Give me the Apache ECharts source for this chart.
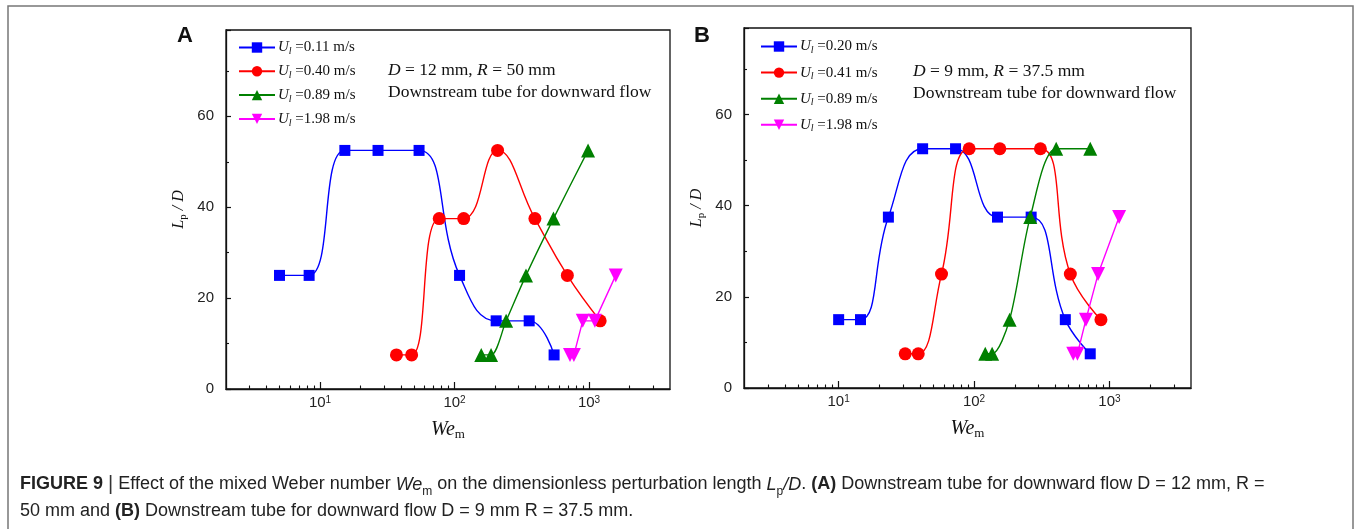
<!DOCTYPE html>
<html>
<head>
<meta charset="utf-8">
<script src="https://cdn.jsdelivr.net/npm/echarts@6/dist/echarts.min.js"></script>
<style>
html,body{margin:0;padding:0;background:#fff;}
#c{width:1356px;height:529px;}
</style>
</head>
<body>
<div id="c"></div>
<script>
// ---------- data ----------
const xMajorTicks = [10, 100, 1000];
const xMinorTicks = [3,4,5,6,7,8,9,20,30,40,50,60,70,80,90,200,300,400,500,600,700,800,900,2000,3000];

// Panel A (D = 12 mm, R = 50 mm)
const aVel = ['0.11', '0.40', '0.89', '1.98'];
const aBlueX = [5, 8.3, 15.3, 27, 54.5, 109, 204, 359, 550];
const aBlueY = [25, 25, 52.5, 52.5, 52.5, 25, 15, 15, 7.5];
const aRedX = [37, 48, 77, 117, 209, 396, 690, 1210];
const aRedY = [7.5, 7.5, 37.5, 37.5, 52.5, 37.5, 25, 15];
const aGreenX = [158, 187, 242, 340, 544, 984];
const aGreenY = [7.5, 7.5, 15, 25, 37.5, 52.5];
const aMagX = [722, 772, 898, 1105, 1580];
const aMagY = [7.5, 7.5, 15, 15, 25];

// Panel B (D = 9 mm, R = 37.5 mm)
const bVel = ['0.20', '0.41', '0.89', '1.98'];
const bBlueX = [10, 14.5, 23.3, 41.7, 73, 149, 264, 472, 721];
const bBlueY = [15, 15, 37.5, 52.5, 52.5, 37.5, 37.5, 15, 7.5];
const bRedX = [31, 38.7, 57.5, 92, 155, 309, 514, 865];
const bRedY = [7.5, 7.5, 25, 52.5, 52.5, 52.5, 25, 15];
const bGreenX = [121, 136, 183, 260, 404, 721];
const bGreenY = [7.5, 7.5, 15, 37.5, 52.5, 52.5];
const bMagX = [540, 580, 670, 824, 1178];
const bMagY = [7.5, 7.5, 15, 25, 37.5];

// ---------- helpers ----------
const zip = (xs, ys) => xs.map((x, i) => [x, ys[i]]);
const colors = ['#0000ff', '#ff0000', '#008000', '#ff00ff'];
const downTri = 'path://M0,0 L10,0 L5,9 Z';
const symbols = ['rect', 'circle', 'triangle', downTri];
const symSizes = [11, 13, 14, 14];
const smooths = [0.45, 0.45, 0.3, false];
const serif = '"Liberation Serif", "Times New Roman", serif';
const sans = '"Liberation Sans", Arial, sans-serif';

const labelMap = {};
function makeSeries(prefix, vel, gridIdx, xs, ys) {
  return xs.map((xArr, k) => {
    const name = prefix + k;
    labelMap[name] = vel[k];
    return {
      name: name,
      type: 'line',
      xAxisIndex: gridIdx * 2,
      yAxisIndex: gridIdx,
      data: zip(xArr, ys[k]),
      smooth: smooths[k],
      symbol: symbols[k],
      symbolSize: symSizes[k],
      showSymbol: true,
      lineStyle: { color: colors[k], width: 1.4 },
      itemStyle: { color: colors[k] },
      emphasis: { disabled: true },
      z: 2 + k
    };
  });
}
const seriesA = makeSeries('a', aVel, 0, [aBlueX, aRedX, aGreenX, aMagX], [aBlueY, aRedY, aGreenY, aMagY]);
const seriesB = makeSeries('b', bVel, 1, [bBlueX, bRedX, bGreenX, bMagX], [bBlueY, bRedY, bGreenY, bMagY]);

const grids = [
  { left: 226, right: 686, top: 30, bottom: 140 },
  { left: 744, right: 165, top: 28, bottom: 141 }
];

function xAxes(gridIndex) {
  return [{
    type: 'log', logBase: 10, min: 2, max: 4000, gridIndex: gridIndex, position: 'bottom',
    name: '{w|We}{m|m}', nameLocation: 'middle', nameGap: 30,
    nameTextStyle: { rich: {
      w: { fontFamily: serif, fontStyle: 'italic', fontSize: 20, color: '#111', lineHeight: 22 },
      m: { fontFamily: serif, fontSize: 13, color: '#111', verticalAlign: 'bottom', lineHeight: 22, padding: [6, 0, 0, 0] }
    } },
    axisLine: { show: true, lineStyle: { color: '#111', width: 1.3 } },
    axisTick: { show: true, inside: true, length: 7, customValues: xMajorTicks, lineStyle: { color: '#111', width: 1.2 } },
    minorTick: { show: false },
    splitLine: { show: false },
    axisLabel: {
      customValues: xMajorTicks, margin: 6, fontFamily: sans, fontSize: 15, color: '#222',
      formatter: v => '10{sup|' + Math.round(Math.log10(v)) + '}',
      rich: { sup: { fontFamily: sans, fontSize: 10, color: '#222', verticalAlign: 'top', lineHeight: 12, padding: [0, 0, 6, 0] } }
    }
  }, {
    type: 'log', logBase: 10, min: 2, max: 4000, gridIndex: gridIndex, position: 'bottom',
    axisLine: { show: false },
    axisTick: { show: true, inside: true, length: 3.5, customValues: xMinorTicks, lineStyle: { color: '#111', width: 1.1 } },
    axisLabel: { show: false },
    splitLine: { show: false }
  }];
}

function yAxis(gridIndex) {
  return {
    type: 'value', min: 0, max: 79, interval: 20, gridIndex: gridIndex,
    name: '{i|L}{s|p}{n| / }{i|D}', nameLocation: 'middle', nameGap: 37,
    nameTextStyle: { rich: {
      i: { fontFamily: serif, fontStyle: 'italic', fontSize: 16, color: '#111', lineHeight: 20 },
      s: { fontFamily: serif, fontSize: 11, color: '#111', verticalAlign: 'bottom', lineHeight: 20, padding: [5, 0, 0, 0] },
      n: { fontFamily: serif, fontStyle: 'italic', fontSize: 16, color: '#111', lineHeight: 20 }
    } },
    axisLine: { show: true, lineStyle: { color: '#111', width: 1.3 } },
    axisTick: { show: true, inside: true, length: 5, lineStyle: { color: '#111', width: 1.2 } },
    minorTick: { show: true, splitNumber: 2, length: 3, lineStyle: { color: '#111', width: 1.1 } },
    splitLine: { show: false },
    axisLabel: { margin: 12, fontFamily: sans, fontSize: 15, color: '#222', showMaxLabel: false }
  };
}

function legend(prefix, left, top, gap) {
  return {
    data: [0, 1, 2, 3].map(k => prefix + k),
    orient: 'vertical', left: left, top: top, itemGap: gap,
    itemWidth: 36, itemHeight: 13,
    selectedMode: false,
    formatter: name => '{u|U}{s|l}{t| =' + labelMap[name] + ' m/s}',
    textStyle: {
      padding: [0, 0, 0, -2],
      rich: {
        u: { fontFamily: serif, fontStyle: 'italic', fontSize: 15, color: '#111', lineHeight: 18 },
        s: { fontFamily: serif, fontStyle: 'italic', fontSize: 10, color: '#111', verticalAlign: 'bottom', lineHeight: 18, padding: [4, 0, 0, 0] },
        t: { fontFamily: serif, fontSize: 15, color: '#111', lineHeight: 18 }
      }
    }
  };
}

const noteSize = 17.5;
const noteStyle = { fontFamily: serif, fontSize: noteSize, fontWeight: 'normal', color: '#111', lineHeight: 22,
  rich: {
    it: { fontFamily: serif, fontStyle: 'italic', fontWeight: 'normal', fontSize: noteSize, color: '#111', lineHeight: 22 },
    r: { fontFamily: serif, fontWeight: 'normal', fontSize: noteSize, color: '#111', lineHeight: 22 }
  } };

const capSize = 18;
const capRich = {
  b: { fontFamily: sans, fontWeight: 'bold', fontSize: capSize, color: '#222', lineHeight: 27 },
  r: { fontFamily: sans, fontWeight: 'normal', fontSize: capSize, color: '#222', lineHeight: 27 },
  i: { fontFamily: sans, fontWeight: 'normal', fontStyle: 'italic', fontSize: capSize, color: '#222', lineHeight: 27 },
  sub: { fontFamily: sans, fontWeight: 'normal', fontSize: 12, color: '#222', lineHeight: 27, verticalAlign: 'bottom', padding: [5, 0, 0, 0] },
  bar: { fontFamily: sans, fontWeight: 'normal', fontSize: 20, color: '#333', lineHeight: 27 }
};
const captionText =
  '{b|FIGURE 9 }{bar||}{r| Effect of the mixed Weber number }{i|We}{sub|m}{r| on the dimensionless perturbation length }{i|L}{sub|p}{i|/D}{r|. }{b|(A)}{r| Downstream tube for downward flow D = 12 mm, R =}\n' +
  '{r|50 mm and }{b|(B)}{r| Downstream tube for downward flow D = 9 mm R = 37.5 mm.}';

const option = {
  animation: false,
  backgroundColor: '#fff',
  grid: grids.map(g => Object.assign({ show: true, borderColor: '#111', borderWidth: 1.3, backgroundColor: 'transparent' }, g)),
  xAxis: xAxes(0).concat(xAxes(1)),
  yAxis: [yAxis(0), yAxis(1)],
  legend: [legend('a', 233, 35, 7.3), legend('b', 755, 34, 9.6)],
  title: [
    { text: 'A', left: 172, top: 20, textStyle: { fontFamily: sans, fontWeight: 'bold', fontSize: 22, color: '#111' } },
    { text: 'B', left: 689, top: 20, textStyle: { fontFamily: sans, fontWeight: 'bold', fontSize: 22, color: '#111' } },
    { text: '{it|D}{r| = 12 mm, }{it|R}{r| = 50 mm}\n{r|Downstream tube for downward flow}', left: 383, top: 54, textStyle: noteStyle },
    { text: '{it|D}{r| = 9 mm, }{it|R}{r| = 37.5 mm}\n{r|Downstream tube for downward flow}', left: 908, top: 55, textStyle: noteStyle },
    { text: captionText, left: 15, top: 466, textStyle: { rich: capRich, fontWeight: 'normal', lineHeight: 27 } }
  ],
  graphic: [{
    type: 'rect', silent: true,
    shape: { x: 8, y: 6, width: 1345, height: 540 },
    style: { fill: 'none', stroke: '#777', lineWidth: 1.5 }
  }],
  series: seriesA.concat(seriesB)
};

const chart = echarts.init(document.getElementById('c'), null, { renderer: 'canvas' });
chart.setOption(option);
</script>
</body>
</html>
